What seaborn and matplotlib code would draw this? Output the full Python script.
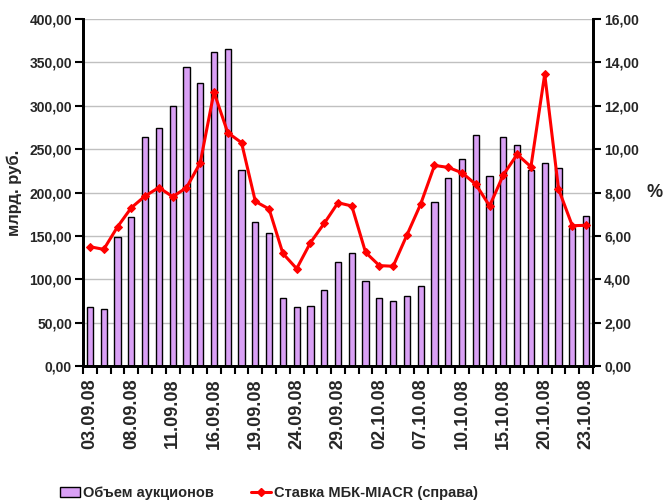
import matplotlib
matplotlib.use("Agg")
import matplotlib.pyplot as plt
import seaborn as sns
import numpy as np
import pandas as pd
from matplotlib.patches import Patch
from matplotlib.lines import Line2D
from matplotlib.ticker import FuncFormatter, MultipleLocator, FixedLocator

dates = ["03.09.08", "04.09.08", "05.09.08", "08.09.08", "09.09.08", "10.09.08",
         "11.09.08", "12.09.08", "15.09.08", "16.09.08", "17.09.08", "18.09.08",
         "19.09.08", "22.09.08", "23.09.08", "24.09.08", "25.09.08", "26.09.08",
         "29.09.08", "30.09.08", "01.10.08", "02.10.08", "03.10.08", "06.10.08",
         "07.10.08", "08.10.08", "09.10.08", "10.10.08", "13.10.08", "14.10.08",
         "15.10.08", "16.10.08", "17.10.08", "20.10.08", "21.10.08", "22.10.08",
         "23.10.08"]
volume = [68.4, 65.7, 148.7, 172.0, 264.0, 274.0, 299.7, 345.0, 326.0, 361.6,
          365.8, 225.6, 166.0, 153.7, 78.4, 68.0, 69.5, 87.6, 120.3, 129.9,
          97.6, 78.4, 74.6, 81.0, 92.6, 188.7, 216.3, 239.0, 265.9, 219.4,
          264.3, 254.8, 226.0, 234.4, 227.9, 159.0, 172.6]
rate = [5.50, 5.38, 6.42, 7.30, 7.84, 8.23, 7.81, 8.22, 9.37, 12.63, 10.76,
        10.30, 7.59, 7.24, 5.19, 4.49, 5.69, 6.58, 7.53, 7.38, 5.24, 4.63,
        4.60, 6.04, 7.47, 9.25, 9.16, 8.91, 8.38, 7.38, 8.82, 9.76, 9.19,
        13.46, 8.17, 6.47, 6.49]
bar_label = "Объем аукционов"
line_label = "Ставка МБК-MIACR (справа)"

sns.set_theme(style="white")
plt.rcParams['font.family'] = ['Liberation Sans', 'DejaVu Sans']
plt.rcParams['font.weight'] = 'bold'

df = pd.DataFrame({"date": dates, "volume": volume, "rate": rate,
                   "idx": np.arange(len(dates))})

fig = plt.figure(figsize=(6.7, 5.03), dpi=100)
ax = fig.add_axes([0.124, 0.2724, 0.761, 0.6896])

bar_color = "#D9A0F5"
sns.barplot(data=df, x="date", y="volume", ax=ax, color=bar_color,
            edgecolor="black", linewidth=1.0, width=0.45, saturation=1)
ax.set_xlim(-0.5, len(dates) - 0.5)
ax.set_ylim(0, 400)
ax.yaxis.set_major_locator(MultipleLocator(50))
ax.yaxis.set_major_formatter(FuncFormatter(lambda v, p: f"{v:.2f}".replace(".", ",")))
ax.grid(axis="y", color="#c0c0c0", linewidth=1.0)
ax.set_axisbelow(True)

lab_pos = list(range(0, len(dates), 3))
ax.xaxis.set_major_locator(FixedLocator(lab_pos))
ax.set_xticklabels([dates[i] for i in lab_pos], rotation=90, fontsize=13,
                   fontweight="bold")
ax.xaxis.set_minor_locator(FixedLocator(np.arange(-0.5, len(dates), 1.0)))
ax.tick_params(axis="x", which="major", length=0, pad=9)
ax.tick_params(axis="x", which="minor", length=6, width=1.5, direction="out",
               color="black", bottom=True)
ax.tick_params(axis="y", length=6, width=1.5, direction="out", color="black",
               left=True, labelsize=10, pad=2)
for t in ax.get_yticklabels():
    t.set_fontweight("bold")
ax.set_xlabel("")
ax.set_ylabel("млрд. руб.", fontsize=12, fontweight="bold", labelpad=5)

ax2 = ax.twinx()
sns.lineplot(data=df, x="idx", y="rate", ax=ax2, color="#ff0000",
             linewidth=2.2, marker="D", markersize=4.5, markeredgecolor="#ff0000")
ax2.set_ylim(0, 16)
ax2.set_xlim(-0.5, len(dates) - 0.5)
ax2.yaxis.set_major_locator(MultipleLocator(2))
ax2.yaxis.set_major_formatter(FuncFormatter(lambda v, p: f"{v:.2f}".replace(".", ",")))
ax2.tick_params(axis="y", length=6, width=1.5, direction="out", color="black",
                right=True, labelsize=10, pad=2)
for t in ax2.get_yticklabels():
    t.set_fontweight("bold")
ax2.set_ylabel("%", fontsize=13, fontweight="bold", rotation=0, labelpad=11,
               va="center")
ax2.set_xlabel("")
if ax2.get_legend():
    ax2.get_legend().remove()

for a in (ax, ax2):
    a.spines["top"].set_visible(False)
    for s in ("left", "right", "bottom"):
        a.spines[s].set_color("black")
        a.spines[s].set_linewidth(2)

handles = [Patch(facecolor=bar_color, edgecolor="black", linewidth=1.0),
           Line2D([0], [0], color="#ff0000", linewidth=2.2, marker="D",
                  markersize=4)]
fig.legend(handles, [bar_label, line_label], loc="center left",
           bbox_to_anchor=(60 / 670, 0.02), ncol=2, frameon=False,
           prop={"size": 10.5, "weight": "bold"}, borderpad=0, borderaxespad=0,
           columnspacing=2.5, handlelength=1.4, handletextpad=0.2)

fig.savefig("out.png", dpi=100)
